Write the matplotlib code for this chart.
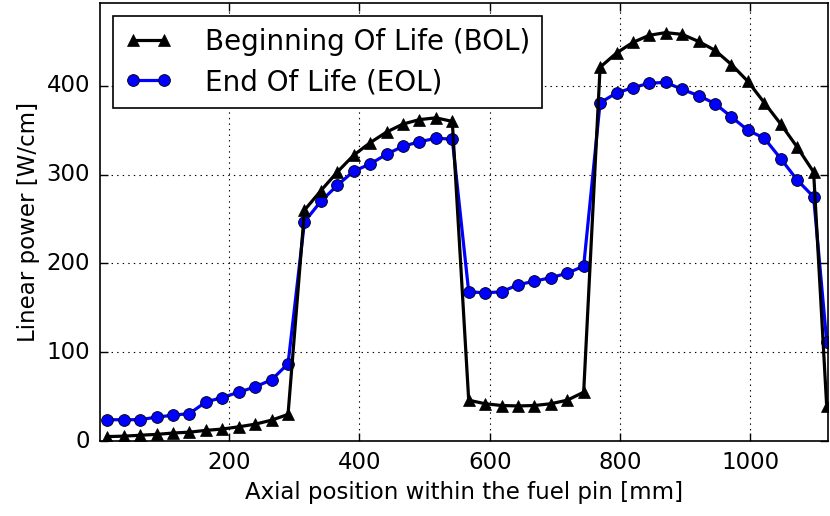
import matplotlib
matplotlib.use("Agg")
import matplotlib.pyplot as plt

# Axial positions of the node centres along the pin [mm]
axial_mm = [13.3, 38.5, 63.7, 88.9, 114.1, 139.3, 164.5, 189.7, 214.9, 240.1,
            265.3, 290.5, 315.7, 340.9, 366.1, 391.3, 416.5, 441.7, 466.9, 492.1,
            517.3, 542.5, 567.7, 592.9, 618.1, 643.3, 668.5, 693.7, 718.9, 744.1,
            769.3, 794.5, 819.7, 844.9, 870.1, 895.3, 920.5, 945.7, 970.9, 996.1,
            1021.3, 1046.5, 1071.7, 1096.9, 1117.0]

# Linear power at beginning of life [W/cm]
bol_power = [5, 5.5, 6.5, 7.5, 9, 10, 12, 13.5, 16, 19, 23.5, 30,
             260, 282, 303, 322, 336, 348, 357, 362, 364, 360,
             46, 42, 40, 39.5, 40, 42, 46, 55,
             421, 437, 449, 457, 460, 458, 450, 440, 424, 405, 381, 357, 331, 303, 39]

# Linear power at end of life [W/cm]
eol_power = [24, 24, 24, 27, 29, 31, 44, 49, 55, 61, 69, 87,
             247, 270, 288, 304, 312, 323, 332, 337, 341, 340,
             168, 167, 168, 176, 180, 184, 189, 197,
             381, 392, 398, 403, 404, 396, 389, 380, 365, 350, 341, 318, 294, 275, 112]

series_labels = ["Beginning Of Life (BOL)", "End Of Life (EOL)"]
x_ticks = [200, 400, 600, 800, 1000]
y_ticks = [0, 100, 200, 300, 400]

plt.style.use("classic")
plt.rcParams["font.family"] = ["DejaVu Sans"]

fig = plt.figure(figsize=(8.3, 5.16), dpi=100, facecolor="white")
ax = fig.add_axes([0.1205, 0.1453, 0.8771, 0.8483])

ax.plot(axial_mm, bol_power, "-^", color="black", lw=2.3, ms=8,
        mec="black", mfc="black", label=series_labels[0], zorder=3)
ax.plot(axial_mm, eol_power, "-o", color="blue", lw=2.3, ms=8.5,
        mec="black", mew=0.6, mfc="blue", label=series_labels[1], zorder=2)

ax.set_xlim(2, 1119)
ax.set_ylim(0, 493)
ax.set_xticks(x_ticks)
ax.set_yticks(y_ticks)
ax.grid(True, color="black", linestyle=":", linewidth=0.8)
ax.tick_params(direction="in", length=6, width=1, labelsize=16.5, pad=7,
               top=True, right=True)
for sp in ax.spines.values():
    sp.set_linewidth(1.2)

ax.set_xlabel("Axial position within the fuel pin [mm]", fontsize=16.5)
ax.set_ylabel("Linear power [W/cm]", fontsize=16.5)

leg = ax.legend(loc="upper left", bbox_to_anchor=(0.018, 0.971),
                borderaxespad=0, fontsize=20, numpoints=2, fancybox=False,
                handlelength=1.7, handletextpad=1.2, borderpad=0.42,
                labelspacing=0.45)
leg.get_frame().set_edgecolor("black")
leg.get_frame().set_linewidth(1.2)

fig.savefig("out.png", dpi=100, facecolor="white")
